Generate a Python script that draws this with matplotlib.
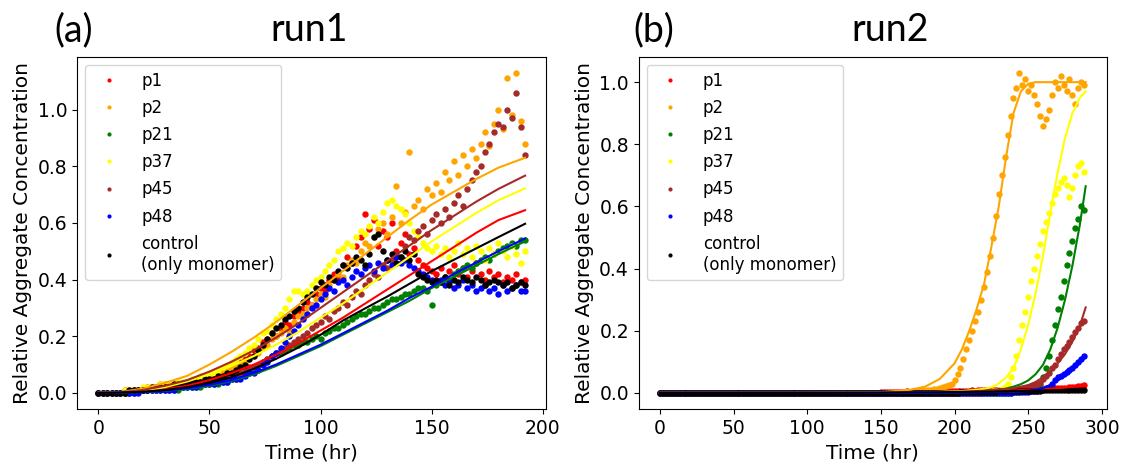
#!/usr/bin/env python3
"""Relative aggregate concentration vs time for two runs, with fitted curves."""

import numpy as np
import matplotlib

matplotlib.use("Agg")
import matplotlib.pyplot as plt

LABELS = ["p1", "p2", "p21", "p37", "p45", "p48", "control\n(only monomer)"]
COLORS = ["red", "orange", "green", "yellow", "brown", "blue", "black"]

# ---- run1: measured points, every 2 hr from 0 to 192 ----
T1 = np.arange(0, 193, 2)

RUN1_P1 = [
    0.00, 0.00, 0.00, 0.00, 0.00, 0.00, 0.01, 0.01, 0.01, 0.01, 0.01, 0.02, 0.02, 0.02, 0.03, 0.03,
    0.02, 0.03, 0.03, 0.03, 0.04, 0.04, 0.04, 0.05, 0.05, 0.06, 0.06, 0.07, 0.07, 0.08, 0.09,
    0.10, 0.11, 0.12, 0.13, 0.15, 0.16, 0.18, 0.19, 0.21, 0.20, 0.23, 0.25, 0.24, 0.27, 0.29,
    0.30, 0.32, 0.31, 0.35, 0.37, 0.36, 0.40, 0.42, 0.41, 0.45, 0.48, 0.46, 0.52, 0.55, 0.63,
    0.58, 0.61, 0.52, 0.57, 0.55, 0.60, 0.50, 0.53, 0.56, 0.49, 0.51, 0.47, 0.45, 0.44, 0.43,
    0.42, 0.44, 0.41, 0.43, 0.45, 0.42, 0.44, 0.41, 0.43, 0.46, 0.42, 0.40, 0.43, 0.41, 0.42,
    0.39, 0.41, 0.40, 0.42, 0.39, 0.40,
]
RUN1_P2 = [
    0.00, 0.00, 0.00, 0.00, 0.00, 0.00, 0.00, 0.01, 0.01, 0.01, 0.01, 0.01, 0.02, 0.02, 0.02, 0.02,
    0.02, 0.03, 0.03, 0.03, 0.04, 0.04, 0.04, 0.05, 0.05, 0.06, 0.06, 0.07, 0.07, 0.08, 0.09,
    0.10, 0.10, 0.11, 0.12, 0.13, 0.14, 0.16, 0.17, 0.19, 0.20, 0.21, 0.23, 0.22, 0.25, 0.27,
    0.28, 0.30, 0.31, 0.33, 0.35, 0.34, 0.38, 0.40, 0.42, 0.41, 0.45, 0.47, 0.46, 0.50, 0.53,
    0.52, 0.55, 0.58, 0.60, 0.56, 0.62, 0.73, 0.60, 0.64, 0.85, 0.66, 0.68, 0.65, 0.72, 0.70,
    0.74, 0.71, 0.78, 0.75, 0.82, 0.77, 0.84, 0.80, 0.86, 0.83, 0.88, 0.92, 0.87, 0.95, 1.00,
    0.93, 1.11, 0.98, 1.13, 0.96, 0.88,
]
RUN1_P21 = [
    0.00, 0.00, 0.00, 0.00, 0.00, 0.00, 0.00, 0.00, 0.00, 0.01, 0.01, 0.01, 0.01, 0.01, 0.01, 0.01,
    0.01, 0.01, 0.01, 0.02, 0.02, 0.02, 0.02, 0.02, 0.03, 0.03, 0.03, 0.03, 0.04, 0.04, 0.05,
    0.05, 0.06, 0.07, 0.08, 0.09, 0.10, 0.11, 0.12, 0.13, 0.14, 0.14, 0.15, 0.16, 0.17, 0.17,
    0.18, 0.18, 0.19, 0.20, 0.19, 0.21, 0.22, 0.23, 0.23, 0.24, 0.25, 0.26, 0.27, 0.28, 0.28,
    0.29, 0.30, 0.30, 0.31, 0.32, 0.33, 0.33, 0.34, 0.35, 0.35, 0.36, 0.37, 0.37, 0.36, 0.31,
    0.38, 0.39, 0.41, 0.40, 0.42, 0.43, 0.44, 0.45, 0.44, 0.46, 0.47, 0.48, 0.47, 0.49, 0.50,
    0.51, 0.52, 0.53, 0.52, 0.54, 0.54,
]
RUN1_P37 = [
    0.00, 0.00, 0.00, 0.00, 0.00, 0.00, 0.01, 0.01, 0.01, 0.01, 0.02, 0.02, 0.02, 0.02, 0.03, 0.03,
    0.03, 0.03, 0.04, 0.04, 0.04, 0.05, 0.05, 0.06, 0.06, 0.07, 0.07, 0.08, 0.09, 0.10, 0.11,
    0.12, 0.13, 0.14, 0.16, 0.17, 0.19, 0.21, 0.22, 0.24, 0.26, 0.28, 0.30, 0.33, 0.36, 0.36,
    0.35, 0.36, 0.38, 0.40, 0.41, 0.43, 0.45, 0.47, 0.50, 0.51, 0.53, 0.52, 0.55, 0.57, 0.56,
    0.59, 0.62, 0.60, 0.64, 0.67, 0.68, 0.66, 0.65, 0.63, 0.60, 0.57, 0.55, 0.53, 0.51, 0.50,
    0.52, 0.49, 0.51, 0.48, 0.50, 0.53, 0.49, 0.51, 0.48, 0.52, 0.50, 0.47, 0.51, 0.49, 0.53,
    0.50, 0.48, 0.52, 0.49, 0.46, 0.50,
]
RUN1_P45 = [
    0.00, 0.00, 0.00, 0.00, 0.00, 0.00, 0.00, 0.00, 0.01, 0.01, 0.01, 0.01, 0.01, 0.01, 0.02, 0.02,
    0.02, 0.02, 0.02, 0.03, 0.03, 0.03, 0.03, 0.04, 0.04, 0.04, 0.05, 0.05, 0.05, 0.06, 0.06,
    0.07, 0.07, 0.08, 0.09, 0.09, 0.10, 0.11, 0.12, 0.13, 0.14, 0.15, 0.16, 0.17, 0.18, 0.19,
    0.20, 0.21, 0.23, 0.24, 0.25, 0.27, 0.26, 0.29, 0.30, 0.32, 0.31, 0.34, 0.36, 0.35, 0.38,
    0.40, 0.42, 0.41, 0.45, 0.44, 0.47, 0.49, 0.48, 0.52, 0.55, 0.54, 0.57, 0.59, 0.56, 0.61,
    0.63, 0.60, 0.65, 0.62, 0.67, 0.70, 0.66, 0.72, 0.75, 0.78, 0.80, 0.85, 0.88, 0.92, 0.95,
    0.94, 1.00, 0.97, 1.06, 0.94, 0.84,
]
RUN1_P48 = [
    0.00, 0.00, 0.00, 0.00, 0.00, 0.00, 0.00, 0.00, 0.00, 0.00, 0.01, 0.01, 0.01, 0.01, 0.01, 0.01,
    0.01, 0.01, 0.02, 0.02, 0.02, 0.02, 0.02, 0.03, 0.03, 0.03, 0.03, 0.04, 0.04, 0.04, 0.05,
    0.05, 0.05, 0.06, 0.07, 0.07, 0.08, 0.10, 0.11, 0.13, 0.14, 0.16, 0.18, 0.20, 0.22, 0.24,
    0.26, 0.28, 0.30, 0.31, 0.33, 0.35, 0.37, 0.36, 0.39, 0.40, 0.38, 0.41, 0.43, 0.42, 0.44,
    0.45, 0.43, 0.46, 0.44, 0.47, 0.45, 0.48, 0.46, 0.47, 0.45, 0.44, 0.43, 0.42, 0.41, 0.40,
    0.39, 0.40, 0.38, 0.39, 0.37, 0.38, 0.40, 0.37, 0.38, 0.36, 0.37, 0.38, 0.36, 0.37, 0.35,
    0.38, 0.36, 0.37, 0.38, 0.36, 0.36,
]
RUN1_CTRL = [
    0.00, 0.00, 0.00, 0.00, 0.00, 0.00, 0.00, 0.01, 0.01, 0.01, 0.01, 0.01, 0.02, 0.02, 0.02, 0.02,
    0.02, 0.03, 0.03, 0.03, 0.03, 0.04, 0.04, 0.04, 0.05, 0.05, 0.05, 0.06, 0.06, 0.07, 0.07,
    0.08, 0.09, 0.10, 0.12, 0.13, 0.15, 0.17, 0.19, 0.21, 0.23, 0.24, 0.26, 0.27, 0.29, 0.30,
    0.32, 0.34, 0.35, 0.37, 0.39, 0.38, 0.41, 0.40, 0.43, 0.45, 0.44, 0.46, 0.48, 0.47, 0.45,
    0.49, 0.55, 0.56, 0.50, 0.47, 0.49, 0.46, 0.48, 0.50, 0.47, 0.49, 0.42, 0.41, 0.40, 0.39,
    0.40, 0.39, 0.41, 0.38, 0.40, 0.39, 0.41, 0.40, 0.39, 0.41, 0.40, 0.38, 0.39, 0.40, 0.39,
    0.38, 0.39, 0.37, 0.38, 0.39, 0.38,
]

# ---- run1: fitted curves ----
FIT1_T = [0, 10, 20, 30, 40, 50, 60, 70, 80, 90, 100, 110, 120, 130, 140, 150, 160, 170, 180, 192]
FIT1_P1 = [0, 0.001, 0.005, 0.013, 0.025, 0.045, 0.07, 0.1, 0.135, 0.175, 0.22, 0.265, 0.315,
           0.365, 0.415, 0.465, 0.515, 0.565, 0.61, 0.645]
FIT1_P2 = [0, 0.003, 0.015, 0.035, 0.06, 0.1, 0.145, 0.195, 0.25, 0.31, 0.37, 0.43, 0.49,
           0.55, 0.61, 0.665, 0.71, 0.755, 0.795, 0.83]
FIT1_P21 = [0, 0.001, 0.003, 0.007, 0.014, 0.025, 0.042, 0.065, 0.095, 0.13, 0.165, 0.205, 0.245,
            0.285, 0.325, 0.37, 0.41, 0.45, 0.49, 0.535]
FIT1_P37 = [0, 0.002, 0.008, 0.02, 0.04, 0.065, 0.095, 0.13, 0.17, 0.215, 0.265, 0.315, 0.37,
            0.425, 0.48, 0.535, 0.585, 0.635, 0.68, 0.722]
FIT1_P45 = [0, 0.002, 0.01, 0.025, 0.045, 0.075, 0.11, 0.15, 0.195, 0.245, 0.3, 0.355, 0.41,
            0.465, 0.52, 0.575, 0.625, 0.675, 0.72, 0.767]
FIT1_P48 = [0, 0.001, 0.003, 0.008, 0.016, 0.028, 0.045, 0.07, 0.1, 0.135, 0.17, 0.21, 0.25,
            0.29, 0.335, 0.375, 0.42, 0.46, 0.5, 0.545]
FIT1_CTRL = [0, 0.001, 0.004, 0.01, 0.02, 0.035, 0.055, 0.085, 0.12, 0.16, 0.205, 0.255, 0.298,
             0.34, 0.385, 0.43, 0.47, 0.51, 0.55, 0.597]

# ---- run2: measured points, every 2 hr from 0 to 288 ----
T2 = np.arange(0, 289, 2)

RUN2_P1 = [
    0, 0, 0, 0, 0, 0, 0, 0, 0, 0,
    0, 0, 0, 0, 0, 0, 0, 0, 0, 0,
    0, 0, 0, 0, 0, 0, 0, 0, 0, 0,
    0, 0, 0, 0, 0, 0, 0, 0, 0, 0,
    0, 0, 0, 0, 0, 0, 0, 0, 0, 0,
    0, 0, 0, 0, 0, 0, 0, 0, 0, 0,
    0, 0, 0, 0, 0, 0, 0, 0, 0, 0,
    0, 0, 0, 0, 0, 0.003, 0.003, 0.004, 0.003, 0.004,
    0.004, 0.003, 0.004, 0.004, 0.005, 0.004, 0.005, 0.004, 0.005, 0.005,
    0.005, 0.005, 0.006, 0.005, 0.006, 0.006, 0.005, 0.006, 0.006, 0.007,
    0.006, 0.007, 0.007, 0.006, 0.007, 0.007, 0.008, 0.007, 0.008, 0.008,
    0.008, 0.008, 0.009, 0.008, 0.009, 0.009, 0.009, 0.010, 0.009, 0.010,
    0.010, 0.010, 0.011, 0.011, 0.011, 0.012, 0.012, 0.012, 0.013, 0.013,
    0.013, 0.014, 0.014, 0.015, 0.015, 0.016, 0.016, 0.017, 0.017, 0.018,
    0.019, 0.020, 0.021, 0.023, 0.025,
]
RUN2_P2 = [
    0, 0, 0, 0, 0, 0, 0, 0, 0, 0,
    0, 0, 0, 0, 0, 0, 0, 0, 0, 0,
    0, 0, 0, 0, 0, 0, 0, 0, 0, 0,
    0, 0, 0, 0, 0, 0, 0, 0, 0, 0,
    0, 0, 0, 0, 0, 0, 0, 0, 0, 0,
    0, 0, 0, 0, 0, 0, 0, 0, 0, 0,
    0, 0, 0, 0, 0, 0, 0, 0, 0, 0,
    0, 0, 0, 0, 0, 0, 0, 0, 0, 0,
    0.001, 0.001, 0.002, 0.002, 0.003, 0.003, 0.004, 0.005, 0.006, 0.007,
    0.008, 0.009, 0.010, 0.012, 0.014, 0.016, 0.018, 0.021, 0.025, 0.030,
    0.04, 0.06, 0.08, 0.11, 0.14, 0.17, 0.20, 0.23, 0.26, 0.30,
    0.34, 0.39, 0.44, 0.50, 0.57, 0.64, 0.70, 0.76, 0.83, 0.89,
    0.95, 0.98, 1.03, 0.99, 1.01, 0.97, 0.99, 0.96, 0.93, 0.89,
    0.86, 0.88, 0.91, 0.96, 1.00, 0.98, 1.02, 0.99, 0.97, 1.01,
    0.96, 0.93, 0.98, 1.00, 0.99,
]
RUN2_P21 = [
    0, 0, 0, 0, 0, 0, 0, 0, 0, 0,
    0, 0, 0, 0, 0, 0, 0, 0, 0, 0,
    0, 0, 0, 0, 0, 0, 0, 0, 0, 0,
    0, 0, 0, 0, 0, 0, 0, 0, 0, 0,
    0, 0, 0, 0, 0, 0, 0, 0, 0, 0,
    0, 0, 0, 0, 0, 0, 0, 0, 0, 0,
    0, 0, 0, 0, 0, 0, 0, 0, 0, 0,
    0, 0, 0, 0, 0, 0, 0, 0, 0, 0,
    0, 0, 0, 0, 0, 0, 0, 0, 0, 0,
    0, 0, 0, 0, 0, 0, 0, 0, 0, 0,
    0, 0, 0, 0, 0, 0, 0, 0, 0, 0,
    0, 0, 0, 0, 0, 0, 0, 0, 0, 0,
    0.002, 0.003, 0.004, 0.005, 0.006, 0.008, 0.010, 0.013, 0.017, 0.025,
    0.05, 0.08, 0.12, 0.17, 0.22, 0.27, 0.31, 0.36, 0.41, 0.45,
    0.49, 0.53, 0.56, 0.60, 0.59,
]
RUN2_P37 = [
    0, 0, 0, 0, 0, 0, 0, 0, 0, 0,
    0, 0, 0, 0, 0, 0, 0, 0, 0, 0,
    0, 0, 0, 0, 0, 0, 0, 0, 0, 0,
    0, 0, 0, 0, 0, 0, 0, 0, 0, 0,
    0, 0, 0, 0, 0, 0, 0, 0, 0, 0,
    0, 0, 0, 0, 0, 0, 0, 0, 0, 0,
    0, 0, 0, 0, 0, 0, 0, 0, 0, 0,
    0, 0, 0, 0, 0, 0, 0, 0, 0, 0,
    0, 0, 0, 0, 0, 0, 0, 0, 0, 0,
    0, 0, 0, 0, 0, 0, 0, 0, 0, 0,
    0, 0, 0, 0, 0, 0, 0, 0, 0, 0,
    0.002, 0.003, 0.004, 0.005, 0.007, 0.010, 0.014, 0.02, 0.03, 0.05,
    0.08, 0.12, 0.17, 0.22, 0.26, 0.31, 0.36, 0.40, 0.44, 0.48,
    0.52, 0.55, 0.58, 0.61, 0.64, 0.66, 0.68, 0.69, 0.67, 0.63,
    0.66, 0.70, 0.73, 0.74, 0.71,
]
RUN2_P45 = [
    0, 0, 0, 0, 0, 0, 0, 0, 0, 0,
    0, 0, 0, 0, 0, 0, 0, 0, 0, 0,
    0, 0, 0, 0, 0, 0, 0, 0, 0, 0,
    0, 0, 0, 0, 0, 0, 0, 0, 0, 0,
    0, 0, 0, 0, 0, 0, 0, 0, 0, 0,
    0, 0, 0, 0, 0, 0, 0, 0, 0, 0,
    0, 0, 0, 0, 0, 0, 0, 0, 0, 0,
    0, 0, 0, 0, 0, 0, 0, 0, 0, 0,
    0, 0, 0, 0, 0, 0, 0, 0, 0, 0,
    0, 0, 0, 0, 0, 0, 0, 0, 0, 0,
    0, 0, 0, 0, 0, 0, 0, 0, 0, 0,
    0.003, 0.003, 0.004, 0.004, 0.005, 0.005, 0.006, 0.006, 0.007, 0.008,
    0.009, 0.010, 0.012, 0.014, 0.016, 0.018, 0.021, 0.024, 0.028, 0.033,
    0.045, 0.055, 0.065, 0.08, 0.09, 0.11, 0.125, 0.14, 0.15, 0.165,
    0.18, 0.195, 0.21, 0.225, 0.23,
]
RUN2_P48 = [
    0, 0, 0, 0, 0, 0, 0, 0, 0, 0,
    0, 0, 0, 0, 0, 0, 0, 0, 0, 0,
    0, 0, 0, 0, 0, 0, 0, 0, 0, 0,
    0, 0, 0, 0, 0, 0, 0, 0, 0, 0,
    0, 0, 0, 0, 0, 0, 0, 0, 0, 0,
    0, 0, 0, 0, 0, 0, 0, 0, 0, 0,
    0, 0, 0, 0, 0, 0, 0, 0, 0, 0,
    0, 0, 0, 0, 0, 0, 0, 0, 0, 0,
    0, 0, 0, 0, 0, 0, 0, 0, 0, 0,
    0, 0, 0, 0, 0, 0, 0, 0, 0, 0,
    0, 0, 0, 0, 0, 0, 0, 0, 0, 0,
    0, 0, 0, 0, 0, 0, 0, 0, 0, 0,
    0.002, 0.002, 0.003, 0.003, 0.004, 0.004, 0.005, 0.005, 0.006, 0.008,
    0.010, 0.015, 0.020, 0.030, 0.040, 0.050, 0.055, 0.062, 0.068, 0.075,
    0.080, 0.090, 0.100, 0.110, 0.118,
]
RUN2_CTRL = [
    0, 0, 0, 0, 0, 0, 0, 0, 0, 0,
    0, 0, 0, 0, 0, 0, 0, 0, 0, 0,
    0, 0, 0, 0, 0, 0, 0, 0, 0, 0,
    0, 0, 0, 0, 0, 0, 0, 0, 0, 0,
    0, 0, 0, 0, 0, 0, 0, 0, 0, 0,
    0, 0, 0, 0, 0, 0, 0, 0, 0, 0,
    0, 0, 0, 0, 0, 0, 0, 0, 0, 0,
    0, 0, 0, 0, 0, 0, 0, 0, 0, 0,
    0, 0, 0, 0, 0, 0, 0, 0, 0, 0,
    0, 0, 0, 0, 0, 0, 0, 0, 0, 0,
    0.001, 0.001, 0.002, 0.002, 0.002, 0.002, 0.003, 0.003, 0.003, 0.003,
    0.003, 0.004, 0.004, 0.004, 0.004, 0.005, 0.005, 0.005, 0.005, 0.005,
    0.006, 0.006, 0.006, 0.006, 0.006, 0.007, 0.007, 0.007, 0.007, 0.007,
    0.008, 0.008, 0.008, 0.008, 0.008, 0.009, 0.009, 0.009, 0.009, 0.009,
    0.010, 0.010, 0.010, 0.010, 0.010,
]

# ---- run2: fitted curves ----
FIT2_T = [0, 100, 150, 170, 180, 190, 200, 205, 210, 215, 220, 225, 230, 235, 240, 245, 250,
          255, 260, 265, 270, 275, 280, 285, 289]
FIT2_P1 = [0, 0, 0.001, 0.002, 0.003, 0.003, 0.004, 0.004, 0.005, 0.005, 0.006, 0.006, 0.007,
           0.007, 0.008, 0.009, 0.01, 0.011, 0.012, 0.014, 0.015, 0.017, 0.019, 0.021, 0.023]
FIT2_P2 = [0, 0, 0.002, 0.01, 0.02, 0.045, 0.095, 0.14, 0.2, 0.27, 0.35, 0.47, 0.6, 0.76, 0.9,
           0.97, 0.995, 1.0, 1.0, 1.0, 1.0, 1.0, 1.0, 1.0, 1.0]
FIT2_P21 = [0, 0, 0, 0.001, 0.001, 0.002, 0.002, 0.003, 0.004, 0.005, 0.006, 0.008, 0.01, 0.014,
            0.02, 0.028, 0.04, 0.06, 0.09, 0.14, 0.21, 0.3, 0.41, 0.54, 0.665]
FIT2_P37 = [0, 0, 0, 0.001, 0.002, 0.003, 0.005, 0.006, 0.008, 0.01, 0.013, 0.018, 0.03, 0.05,
            0.08, 0.14, 0.22, 0.32, 0.44, 0.58, 0.71, 0.82, 0.9, 0.95, 0.97]
FIT2_P45 = [0, 0, 0, 0.001, 0.001, 0.002, 0.003, 0.004, 0.005, 0.006, 0.007, 0.008, 0.01, 0.012,
            0.015, 0.02, 0.025, 0.035, 0.05, 0.07, 0.095, 0.125, 0.165, 0.215, 0.275]
FIT2_P48 = [0, 0, 0, 0, 0, 0, 0.001, 0.001, 0.001, 0.002, 0.002, 0.002, 0.003, 0.003, 0.003,
            0.004, 0.006, 0.01, 0.015, 0.025, 0.04, 0.055, 0.075, 0.095, 0.12]
FIT2_CTRL = [0, 0, 0.001, 0.002, 0.002, 0.002, 0.003, 0.003, 0.003, 0.004, 0.004, 0.004, 0.005,
             0.005, 0.006, 0.006, 0.007, 0.007, 0.008, 0.008, 0.009, 0.009, 0.01, 0.01, 0.01]


def draw_panel(ax, t, series, fit_t, fits):
    for ys, color, label in zip(series, COLORS, LABELS):
        ax.plot(t, ys, "o", ms=4.6, mew=0, color=color, label=label)
    for ys, color in zip(fits, COLORS):
        ax.plot(fit_t, ys, "-", lw=1.5, color=color)

    ax.set_xlabel("Time (hr)", fontsize=14.5)
    ax.set_ylabel("Relative Aggregate Concentration", fontsize=14.5)
    ax.tick_params(labelsize=13.5)
    ax.legend(loc="upper left", fontsize=12, handlelength=2.0, handletextpad=0.95,
              labelspacing=0.55, markerscale=0.65)


def main():
    fig = plt.figure(figsize=(11.22, 4.62), dpi=100)
    ax1 = fig.add_axes([0.0685, 0.115, 0.4185, 0.762])
    ax2 = fig.add_axes([0.5692, 0.115, 0.4174, 0.762])

    draw_panel(
        ax1, T1,
        [RUN1_P1, RUN1_P2, RUN1_P21, RUN1_P37, RUN1_P45, RUN1_P48, RUN1_CTRL],
        FIT1_T,
        [FIT1_P1, FIT1_P2, FIT1_P21, FIT1_P37, FIT1_P45, FIT1_P48, FIT1_CTRL],
    )
    draw_panel(
        ax2, T2,
        [RUN2_P1, RUN2_P2, RUN2_P21, RUN2_P37, RUN2_P45, RUN2_P48, RUN2_CTRL],
        FIT2_T,
        [FIT2_P1, FIT2_P2, FIT2_P21, FIT2_P37, FIT2_P45, FIT2_P48, FIT2_CTRL],
    )

    # panel tags and run titles
    head = dict(fontsize=27, family="Lato", va="center")
    fig.text(0.066, 0.935, "(a)", ha="center", **head)
    fig.text(0.2757, 0.935, "run1", ha="center", **head)
    fig.text(0.583, 0.935, "(b)", ha="center", **head)
    fig.text(0.793, 0.935, "run2", ha="center", **head)

    fig.savefig("out.png", dpi=100)


if __name__ == "__main__":
    main()
